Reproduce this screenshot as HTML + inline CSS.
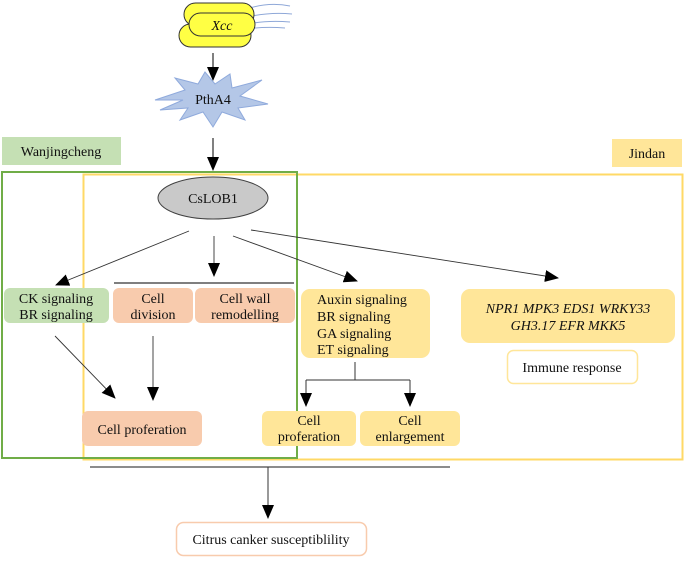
<!DOCTYPE html>
<html><head><meta charset="utf-8"><style>
body{margin:0;background:#fff;}
svg text{font-family:"Liberation Serif",serif;font-size:14px;fill:#111;}
</style></head><body>
<svg width="685" height="558" viewBox="0 0 685 558" xmlns="http://www.w3.org/2000/svg">
<defs><marker id="b" markerWidth="14" markerHeight="12" refX="13" refY="6" orient="auto" markerUnits="userSpaceOnUse"><path d="M0,0 L14,6 L0,12 z" fill="#000"/></marker></defs>
<!-- Xcc -->
<path d="M250,8 Q270,2 290,6 M252,16 Q272,12 292,14 M248,24 Q268,20 290,22 M240,30 Q262,26 285,28" stroke="#8fa8d8" fill="none"/>
<rect x="179" y="24" width="72" height="23" rx="11.5" fill="#ffff44" stroke="#333"/>
<rect x="184" y="3" width="70" height="23" rx="11.5" fill="#ffff44" stroke="#333"/>
<rect x="189" y="13" width="66" height="23" rx="11.5" fill="#ffff44" stroke="#333"/>
<text x="222" y="30" text-anchor="middle" font-style="italic">Xcc</text>
<line x1="213" y1="53" x2="213" y2="80" stroke="#000" marker-end="url(#b)"/>
<!-- star -->
<polygon points="155,100 185,90 175,78 198,84 205,72 215,84 230,74 232,88 262,80 240,96 268,104 238,108 245,120 222,112 213,127 203,112 180,120 188,108 160,110 183,100" fill="#b4c7e7" stroke="#8faadc"/>
<text x="213" y="104" text-anchor="middle">PthA4</text>
<line x1="213" y1="138" x2="213" y2="170" stroke="#000" marker-end="url(#b)"/>
<!-- group boxes -->
<rect x="2" y="137" width="119" height="28" fill="#c5e0b4"/>
<text x="61" y="156" text-anchor="middle">Wanjingcheng</text>
<rect x="612" y="139" width="70" height="28" fill="#ffe699"/>
<text x="647" y="158" text-anchor="middle">Jindan</text>
<rect x="83.5" y="174.5" width="599" height="285" fill="none" stroke="#ffd966" stroke-width="2"/>
<rect x="2" y="172" width="295" height="286" fill="none" stroke="#70ad47" stroke-width="2"/>
<ellipse cx="213" cy="198" rx="55" ry="21" fill="#c9c9c9" stroke="#404040"/>
<text x="213" y="203" text-anchor="middle">CsLOB1</text>
<g stroke="#333" stroke-width="0.9">
<line x1="189" y1="231" x2="56" y2="285" marker-end="url(#b)"/>
<line x1="214" y1="236" x2="214" y2="276" marker-end="url(#b)"/>
<line x1="233" y1="236" x2="357" y2="281" marker-end="url(#b)"/>
<line x1="251" y1="230" x2="558" y2="278" marker-end="url(#b)"/>
</g>
<line x1="114" y1="283" x2="294" y2="283" stroke="#555" stroke-width="1.5"/>
<rect x="4" y="288" width="105" height="35" rx="6" fill="#c5e0b4"/>
<text x="56" y="303" text-anchor="middle">CK signaling</text><text x="56" y="319" text-anchor="middle">BR signaling</text>
<rect x="113" y="288" width="80" height="35" rx="6" fill="#f8cbad"/>
<text x="153" y="303" text-anchor="middle">Cell</text><text x="153" y="319" text-anchor="middle">division</text>
<rect x="195" y="288" width="100" height="35" rx="6" fill="#f8cbad"/>
<text x="245" y="303" text-anchor="middle">Cell wall</text><text x="245" y="319" text-anchor="middle">remodelling</text>
<rect x="82" y="411" width="120" height="35" rx="6" fill="#f8cbad"/>
<text x="142" y="434" text-anchor="middle">Cell proferation</text>
<g stroke="#333" stroke-width="0.9">
<line x1="55" y1="336" x2="115" y2="398" marker-end="url(#b)"/>
<line x1="153" y1="336" x2="153" y2="400" marker-end="url(#b)"/>
</g>
<rect x="301" y="289" width="129" height="69" rx="9" fill="#ffe699"/>
<text x="317" y="304">Auxin signaling</text><text x="317" y="321">BR signaling</text><text x="317" y="338">GA signaling</text><text x="317" y="354">ET signaling</text>
<rect x="461" y="289" width="214" height="54" rx="9" fill="#ffe699"/>
<text x="568" y="313" text-anchor="middle" font-style="italic">NPR1  MPK3  EDS1 WRKY33</text>
<text x="568" y="330" text-anchor="middle" font-style="italic">GH3.17  EFR  MKK5</text>
<rect x="507.5" y="350.5" width="130" height="33" rx="6" fill="#fff" stroke="#ffe699" stroke-width="1.5"/>
<text x="572" y="372" text-anchor="middle">Immune response</text>
<path d="M355,362 V380 M306,380 H410" stroke="#333" fill="none"/>
<line x1="306" y1="380" x2="306" y2="406" stroke="#333" marker-end="url(#b)"/>
<line x1="410" y1="380" x2="410" y2="406" stroke="#333" marker-end="url(#b)"/>
<rect x="262" y="411" width="94" height="35" rx="6" fill="#ffe699"/>
<text x="309" y="425" text-anchor="middle">Cell</text><text x="309" y="441" text-anchor="middle">proferation</text>
<rect x="360" y="411" width="100" height="35" rx="6" fill="#ffe699"/>
<text x="410" y="425" text-anchor="middle">Cell</text><text x="410" y="441" text-anchor="middle">enlargement</text>
<line x1="90" y1="467" x2="450" y2="467" stroke="#666" stroke-width="1.5"/>
<line x1="268" y1="467" x2="268" y2="518" stroke="#333" marker-end="url(#b)"/>
<rect x="176.5" y="522.5" width="190" height="33" rx="7" fill="#fff" stroke="#f8cbad" stroke-width="1.5"/>
<text x="271" y="544" text-anchor="middle">Citrus canker susceptiblility</text>
</svg>
</body></html>
